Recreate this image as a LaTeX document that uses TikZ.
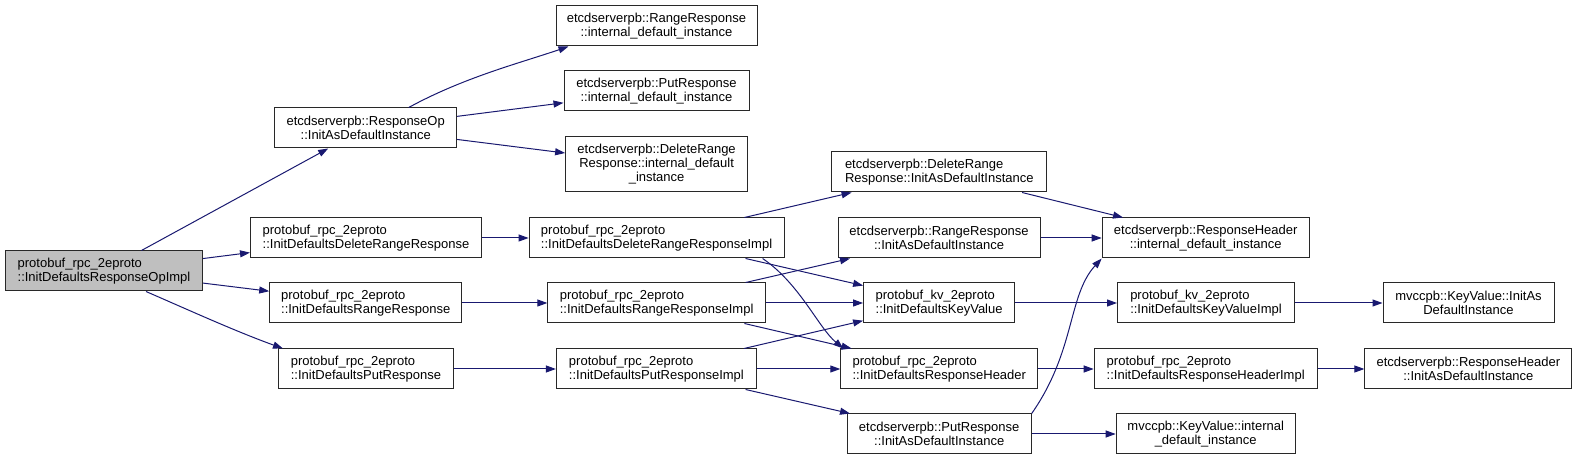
\documentclass[tikz,border=0pt]{standalone}
\usepackage{fontspec}
\setmainfont{Liberation Sans}
\usepackage{xcolor}
\usepackage{tikz}
\usetikzlibrary{arrows.meta}
\definecolor{edgeblue}{RGB}{25,25,112}
\definecolor{rootgray}{RGB}{191,191,191}
\definecolor{boxline}{RGB}{40,40,40}
\tikzset{
  func/.style={draw=boxline,line width=1pt,fill=white,minimum height=40pt,inner xsep=2pt,inner ysep=3pt,font=\fontsize{13}{14}\selectfont,align=center},
  funcl/.style={func,align=left},
  focus/.style={funcl,fill=rootgray},
  arr/.style={-{Triangle[length=10pt,width=7pt]},line width=1pt,draw=edgeblue},
}

\begin{document}
\begin{tikzpicture}[x=1pt,y=1pt]
  \useasboundingbox (0,0) rectangle (1577,460);
  % column 1
  \node[focus,minimum width=197pt] (root) at (104,189) {protobuf\_rpc\_2eproto\\::InitDefaultsResponseOpImpl};
  % column 2
  \node[func,minimum width=182pt] (respop) at (365.7,332) {etcdserverpb::ResponseOp\\::InitAsDefaultInstance};
  \node[funcl,minimum width=231pt] (rpcdel) at (366,222) {protobuf\_rpc\_2eproto\\::InitDefaultsDeleteRangeResponse};
  \node[funcl,minimum width=192pt] (rpcrange) at (365.7,157) {protobuf\_rpc\_2eproto\\::InitDefaultsRangeResponse};
  \node[funcl,minimum width=175pt] (rpcput) at (366,91) {protobuf\_rpc\_2eproto\\::InitDefaultsPutResponse};
  % column 3
  \node[func,minimum width=201pt] (rrint) at (656.5,434) {etcdserverpb::RangeResponse\\::internal\_default\_instance};
  \node[func,minimum width=185pt] (print) at (656.5,369) {etcdserverpb::PutResponse\\::internal\_default\_instance};
  \node[func,minimum width=182pt,minimum height=55pt] (drint) at (656.6,295.5) {etcdserverpb::DeleteRange\\Response::internal\_default\\\_instance};
  \node[funcl,minimum width=255pt] (delimpl) at (656.6,222) {protobuf\_rpc\_2eproto\\::InitDefaultsDeleteRangeResponseImpl};
  \node[funcl,minimum width=217.5pt] (rangeimpl) at (656.6,157) {protobuf\_rpc\_2eproto\\::InitDefaultsRangeResponseImpl};
  \node[funcl,minimum width=200pt] (putimpl) at (656.4,91) {protobuf\_rpc\_2eproto\\::InitDefaultsPutResponseImpl};
  % column 4
  \node[funcl,minimum width=215pt] (drinit) at (939.3,288) {etcdserverpb::DeleteRange\\Response::InitAsDefaultInstance};
  \node[func,minimum width=202pt] (rrinit) at (939.1,222) {etcdserverpb::RangeResponse\\::InitAsDefaultInstance};
  \node[funcl,minimum width=151pt] (kv) at (939.1,157) {protobuf\_kv\_2eproto\\::InitDefaultsKeyValue};
  \node[funcl,minimum width=197pt] (rhdr) at (939.3,91) {protobuf\_rpc\_2eproto\\::InitDefaultsResponseHeader};
  \node[func,minimum width=184pt] (prinit) at (939.2,26) {etcdserverpb::PutResponse\\::InitAsDefaultInstance};
  % column 5
  \node[func,minimum width=207pt] (rhint) at (1205.7,222) {etcdserverpb::ResponseHeader\\::internal\_default\_instance};
  \node[funcl,minimum width=177pt] (kvimpl) at (1206,157) {protobuf\_kv\_2eproto\\::InitDefaultsKeyValueImpl};
  \node[funcl,minimum width=223pt] (rhimpl) at (1205.7,91) {protobuf\_rpc\_2eproto\\::InitDefaultsResponseHeaderImpl};
  \node[func,minimum width=179pt] (kvint) at (1205.7,26) {mvccpb::KeyValue::internal\\\_default\_instance};
  % column 6
  \node[func,minimum width=171pt] (kvinit) at (1468.5,157) {mvccpb::KeyValue::InitAs\\DefaultInstance};
  \node[func,minimum width=207pt] (rhinit) at (1468.4,91) {etcdserverpb::ResponseHeader\\::InitAsDefaultInstance};

  \draw[arr] (root) -- (respop);
  \draw[arr] (root) -- (rpcdel);
  \draw[arr] (root) -- (rpcrange);
  \draw[arr] ([xshift=42pt]root.south) .. controls +(46,-20) and +(-47,17) .. ([xshift=-83pt]rpcput.north);
  \draw[arr] ([xshift=43pt]respop.north) .. controls +(55,30) and +(-50,-17) .. ([xshift=-88pt]rrint.south);
  \draw[arr] (respop) -- (print);
  \draw[arr] (respop) -- (drint);
  \draw[arr] (rpcdel) -- (delimpl);
  \draw[arr] (rpcrange) -- (rangeimpl);
  \draw[arr] (rpcput) -- (putimpl);
  \draw[arr] (delimpl) -- (drinit);
  \draw[arr] (delimpl) -- (kv);
  \draw[arr] ([xshift=106pt]delimpl.south) .. controls +(37,-25) and +(-25,21) .. ([xshift=-96pt]rhdr.north);
  \draw[arr] (rangeimpl) -- (rrinit);
  \draw[arr] (rangeimpl) -- (kv);
  \draw[arr] (rangeimpl) -- (rhdr);
  \draw[arr] (putimpl) -- (kv);
  \draw[arr] (putimpl) -- (rhdr);
  \draw[arr] (putimpl) -- (prinit);
  \draw[arr] (drinit) -- (rhint);
  \draw[arr] (rrinit) -- (rhint);
  \draw[arr] (prinit.north east) .. controls +(44,63) and +(-34,-37) .. (rhint.south west);
  \draw[arr] (prinit) -- (kvint);
  \draw[arr] (kv) -- (kvimpl);
  \draw[arr] (rhdr) -- (rhimpl);
  \draw[arr] (kvimpl) -- (kvinit);
  \draw[arr] (rhimpl) -- (rhinit);
\end{tikzpicture}
\end{document}
